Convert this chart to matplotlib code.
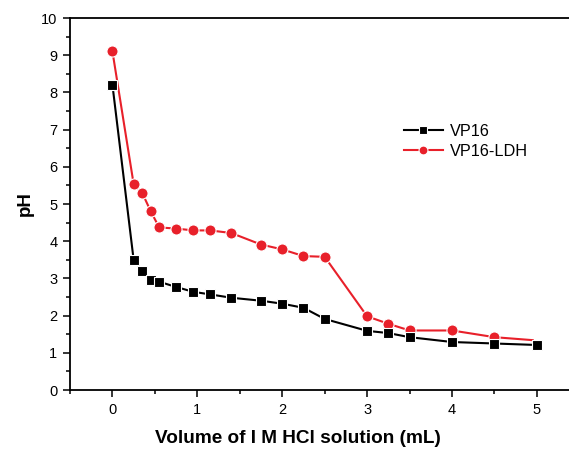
import matplotlib
matplotlib.use("Agg")
import matplotlib.pyplot as plt
from matplotlib.ticker import MultipleLocator

plt.rcParams['font.family'] = ['Liberation Sans', 'DejaVu Sans']

# titration data
vol_vp16 = [0, 0.25, 0.35, 0.45, 0.55, 0.75, 0.95, 1.15, 1.4, 1.75, 2.0, 2.25, 2.5,
            3.0, 3.25, 3.5, 4.0, 4.5, 5.0]
ph_vp16 = [8.2, 3.49, 3.21, 2.97, 2.91, 2.77, 2.64, 2.57, 2.48, 2.40, 2.32, 2.21, 1.91,
           1.59, 1.53, 1.42, 1.29, 1.25, 1.21]

vol_ldh = [0, 0.25, 0.35, 0.45, 0.55, 0.75, 0.95, 1.15, 1.4, 1.75, 2.0, 2.25, 2.5,
           3.0, 3.25, 3.5, 4.0, 4.5, 4.95]
ph_ldh = [9.1, 5.53, 5.30, 4.81, 4.37, 4.34, 4.29, 4.29, 4.22, 3.91, 3.78, 3.60, 3.58,
          1.98, 1.78, 1.60, 1.60, 1.42, 1.34]

red = '#e8202a'

fig = plt.figure(figsize=(5.69, 4.49), dpi=100)
ax = fig.add_axes([70 / 569, 1 - 390 / 449, (579.4 - 70) / 569, (390 - 18) / 449])

ax.plot(vol_vp16, ph_vp16, color='black', lw=1.5, marker='s', ms=7,
        mec='white', mew=0.8, mfc='black', label='VP16', zorder=3)
ax.plot(vol_ldh, ph_ldh, color=red, lw=1.5, marker='o', ms=8,
        mec='white', mew=0.8, mfc=red, markevery=list(range(len(vol_ldh) - 1)),
        label='VP16-LDH', zorder=2)

ax.set_xlim(-0.5, 5.5)
ax.set_ylim(0, 10)
ax.xaxis.set_major_locator(MultipleLocator(1))
ax.xaxis.set_minor_locator(MultipleLocator(0.5))
ax.yaxis.set_major_locator(MultipleLocator(1))
ax.yaxis.set_minor_locator(MultipleLocator(0.5))
ax.tick_params(which='both', direction='out', top=False, right=False,
               labelsize=10.5, width=1.1, pad=4)
ax.tick_params(which='major', length=5)
ax.tick_params(which='minor', length=3)
for s in ax.spines.values():
    s.set_linewidth(1.3)
ax.spines['right'].set_visible(False)

ax.set_xlabel('Volume of I M HCl solution (mL)', fontsize=13.7, fontweight='bold')
ax.xaxis.set_label_coords((298 - 70) / 509.4, -40 / 372)
ax.set_ylabel('pH', fontsize=13.5, fontweight='bold')
ax.yaxis.set_label_coords(-36 / 509.4, 0.5)

leg = ax.legend(loc='upper left', bbox_to_anchor=(389 / 569, 1 - 109 / 449),
                bbox_transform=fig.transFigure, frameon=False, fontsize=11.7,
                handlelength=2.4, labelspacing=0.3, handletextpad=0.45,
                markerscale=0.8)

fig.savefig('out.png', dpi=100)
